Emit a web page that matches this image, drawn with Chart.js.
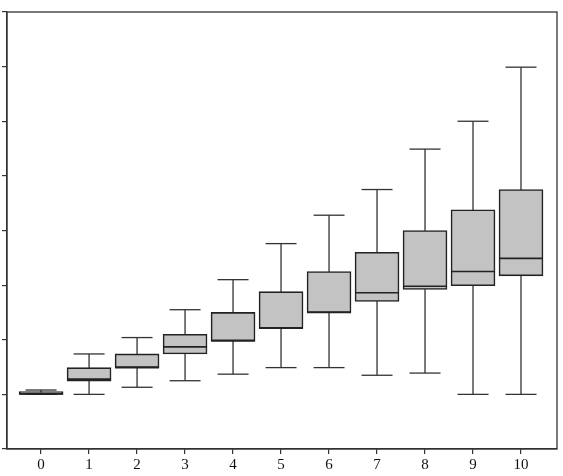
<!DOCTYPE html>
<html>
<head>
<meta charset="utf-8">
<script src="https://cdn.jsdelivr.net/npm/chart.js@4/dist/chart.umd.min.js"></script>
<style>
html,body{margin:0;padding:0;background:#fff;}
#wrap{width:563px;height:476px;}
</style>
</head>
<body>
<div id="wrap"><canvas id="c" width="563" height="476"></canvas></div>
<script>
const categories = [0,1,2,3,4,5,6,7,8,9,10];
const tickLabels = ['0','1','2','3','4','5','6','7','8','9','10'];
const whiskerLow  = [1.00, 1.00, 1.13, 1.25, 1.37, 1.49, 1.49, 1.35, 1.39, 1.00, 1.00];
const quart1      = [1.00, 1.24, 1.49, 1.74, 1.98, 2.21, 2.50, 2.70, 2.92, 2.99, 3.17];
const medians     = [1.01, 1.28, 1.49, 1.87, 1.98, 2.21, 2.50, 2.86, 2.98, 3.25, 3.49];
const quart3      = [1.05, 1.49, 1.74, 2.10, 2.50, 2.88, 3.25, 3.60, 4.00, 4.38, 4.75];
const whiskerHigh = [1.08, 1.74, 2.04, 2.55, 3.10, 3.76, 4.28, 4.75, 5.49, 6.00, 6.99];
const yTicks = [0,1,2,3,4,5,6,7,8];

const whiskerData = [];
categories.forEach((c,i)=>{
  whiskerData.push({x:c,y:whiskerLow[i]},{x:c,y:whiskerHigh[i]},{x:c,y:null});
});
const capData = [];
categories.forEach((c,i)=>{ capData.push({x:c,y:whiskerLow[i]},{x:c,y:whiskerHigh[i]}); });

const frame = {
  id:'frame',
  afterDraw(chart){
    const {ctx, chartArea:a} = chart;
    ctx.save();
    ctx.strokeStyle='#333';
    ctx.lineWidth=1.3;
    ctx.strokeRect(a.left, a.top, a.right-a.left, a.bottom-a.top);
    ctx.restore();
  }
};

new Chart(document.getElementById('c'), {
  type:'bar',
  data:{
    datasets:[
      {type:'scatter', data:medians.map((m,i)=>({x:categories[i],y:m})), pointStyle:'line', pointRadius:22, pointHoverRadius:22, borderColor:'#222', borderWidth:1.6, order:0},
      {type:'bar', data:categories.map((c,i)=>({x:c,y:[quart1[i],quart3[i]]})), backgroundColor:'#c3c3c3', borderColor:'#222', borderWidth:1.6, borderSkipped:false, barThickness:44, grouped:false, order:1},
      {type:'scatter', data:capData, pointStyle:'line', pointRadius:15.5, pointHoverRadius:15.5, borderColor:'#333', borderWidth:1.3, order:2},
      {type:'line', data:whiskerData, borderColor:'#333', borderWidth:1.3, pointRadius:0, spanGaps:false, order:3}
    ]
  },
  options:{
    responsive:false,
    animation:false,
    events:[],
    layout:{autoPadding:false, padding:{left:2,top:12,right:6,bottom:0}},
    plugins:{legend:{display:false},tooltip:{enabled:false}},
    scales:{
      x:{type:'linear', min:-0.71, max:10.75, offset:false,
        afterBuildTicks(s){ s.ticks = categories.map(v=>({value:v})); },
        ticks:{autoSkip:false, maxRotation:0, padding:2, color:'#111', font:{family:'Liberation Serif', size:15},
          callback:(v)=>{const i=categories.indexOf(v); return i>=0?tickLabels[i]:'';}},
        grid:{offset:false, drawOnChartArea:false, drawTicks:true, tickLength:5, color:'#333', lineWidth:1.2},
        border:{color:'#333', width:1.3}
      },
      y:{type:'linear', min:0, max:8,
        afterBuildTicks(s){ s.ticks = yTicks.map(v=>({value:v})); },
        ticks:{display:false},
        grid:{drawOnChartArea:false, drawTicks:true, tickLength:5, color:'#333', lineWidth:1.2},
        border:{color:'#333', width:1.3}
      }
    }
  },
  plugins:[frame]
});
</script>
</body>
</html>
